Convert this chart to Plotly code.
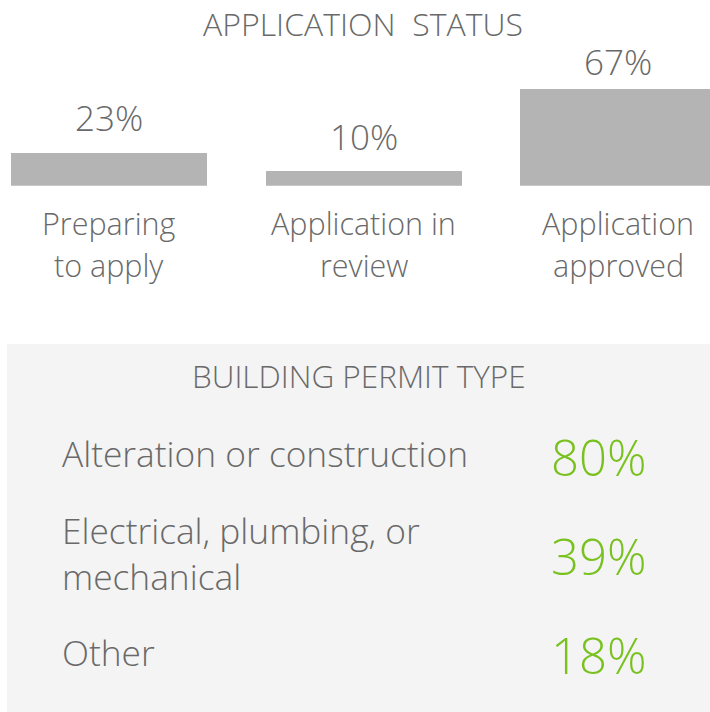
import plotly.graph_objects as go

# ---- data ----
status_labels = ["Preparing<br>to apply", "Application in<br>review", "Application<br>approved"]
status_values = [23, 10, 67]

permit_labels = ["Alteration or construction", "Electrical, plumbing, or<br>mechanical", "Other"]
permit_values = [80, 39, 18]

# ---- style ----
TEXT = "#696969"
BAR = "#b4b4b4"
GREEN = "#79c11e"
PANEL = "#f4f4f4"
FONT = "Open Sans"
W, H = 710, 712
value_label_shift = [35, 35, 28]   # px above bar top (label centre)

fig = go.Figure()

idx = list(range(len(status_values)))
fig.add_trace(go.Bar(
    x=idx, y=status_values, width=196 / 254.5,
    marker=dict(color=BAR, line=dict(width=0)),
    hoverinfo="skip", showlegend=False,
    xaxis="x", yaxis="y",
))

for i, v, s in zip(idx, status_values, value_label_shift):
    fig.add_annotation(x=i, y=v, xref="x", yref="y", text=f"{v}%",
                       showarrow=False, yanchor="middle", yshift=s,
                       font=dict(family=FONT, size=35, color=TEXT, weight=300))

for i, lab in zip(idx, status_labels):
    for k, line in enumerate(lab.split("<br>")):
        fig.add_annotation(x=i, y=0, xref="x", yref="y", text=line,
                           showarrow=False, yanchor="middle", yshift=-(37 + 42 * k),
                           font=dict(family=FONT, size=30.5, color=TEXT, weight=300))

rows = list(range(len(permit_values)))
fig.add_trace(go.Scatter(
    x=[62] * len(rows), y=rows, mode="text", text=permit_labels,
    textposition="middle right",
    textfont=dict(family=FONT, size=35.3, color=TEXT, weight=300),
    hoverinfo="skip", showlegend=False, xaxis="x2", yaxis="y3",
))
fig.add_trace(go.Scatter(
    x=[551] * len(rows), y=rows, mode="text", text=[f"{v}%" for v in permit_values],
    textposition="middle right",
    textfont=dict(family=FONT, size=49, color=GREEN, weight=300),
    hoverinfo="skip", showlegend=False, xaxis="x2", yaxis="y2",
))

fig.add_shape(type="rect", xref="paper", yref="paper",
              x0=7 / W, x1=1, y0=0, y1=1 - 344 / H,
              fillcolor=PANEL, line=dict(width=0), layer="below")

fig.add_annotation(x=362.5 / W, y=1 - 24 / H, xref="paper", yref="paper",
                   text="APPLICATION&nbsp; STATUS", showarrow=False,
                   xanchor="center", yanchor="middle",
                   font=dict(family=FONT, size=32, color=TEXT, weight=300))
fig.add_annotation(x=358.5 / W, y=1 - 376 / H, xref="paper", yref="paper",
                   text="BUILDING PERMIT TYPE", showarrow=False,
                   xanchor="center", yanchor="middle",
                   font=dict(family=FONT, size=31.5, color=TEXT, weight=300))

px_per_unit = 254.5
bar_bottom = 185.7
ypx = 96.7 / 67

fig.update_layout(
    width=W, height=H,
    margin=dict(l=0, r=0, t=0, b=0),
    paper_bgcolor="white", plot_bgcolor="rgba(0,0,0,0)",
    xaxis=dict(domain=[0, 1], range=[-109 / px_per_unit, (W - 109) / px_per_unit],
               visible=False, fixedrange=True),
    yaxis=dict(domain=[1 - bar_bottom / H, 1], range=[0, bar_bottom / ypx],
               visible=False, fixedrange=True),
    xaxis2=dict(domain=[0, 1], range=[0, W], visible=False, anchor="y2"),
    yaxis2=dict(domain=[0, 1 - 343 / H], range=[2.503, -1.216], visible=False, anchor="x2"),
    yaxis3=dict(domain=[0, 1 - 343 / H], range=[2.554, -1.166], visible=False,
                anchor="x2", overlaying="y2"),
    bargap=0,
)

fig.write_html("out.html", config={"displayModeBar": False},
               post_script="document.body.style.margin='0';")
